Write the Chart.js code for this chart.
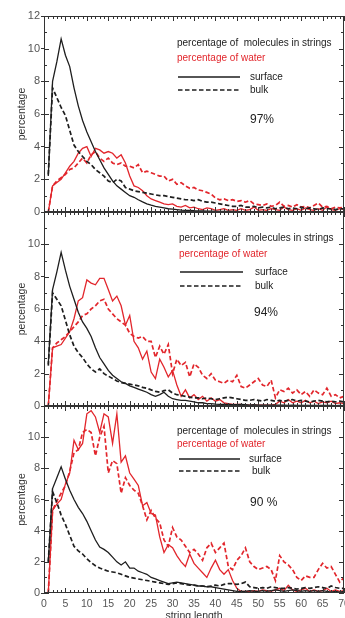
<!DOCTYPE html>
<html>
<head>
<meta charset="utf-8">
<script src="https://cdn.jsdelivr.net/npm/chart.js@4.4.0/dist/chart.umd.min.js"></script>
<style>
  html, body { margin: 0; padding: 0; background: #fff; overflow: hidden; }
  #wrap { position: relative; width: 345px; height: 618px; }
  canvas { position: absolute; left: 0; }
</style>
</head>
<body>
<div id="wrap">
  <canvas id="c97"></canvas>
  <canvas id="c94"></canvas>
  <canvas id="c90"></canvas>
</div>
<script>
// string length (x) and tick values
const lengths = [1, 2, 3, 4, 5, 6, 7, 8, 9, 10, 11, 12, 13, 14, 15, 16, 17, 18, 19, 20,
  21, 22, 23, 24, 25, 26, 27, 28, 29, 30, 31, 32, 33, 34, 35, 36, 37, 38, 39, 40,
  41, 42, 43, 44, 45, 46, 47, 48, 49, 50, 51, 52, 53, 54, 55, 56, 57, 58, 59, 60,
  61, 62, 63, 64, 65, 66, 67, 68, 69, 70];
const xTickValues = [0, 5, 10, 15, 20, 25, 30, 35, 40, 45, 50, 55, 60, 65, 70];
const yTickValues = [0, 2, 4, 6, 8, 10, 12];

// 97 %
const surf97Mol = [2.2, 8.0, 9.2, 10.6, 9.6, 8.9, 7.6, 6.5, 5.6, 4.9,
  4.3, 3.7, 3.2, 2.7, 2.3, 1.9, 1.6, 1.4, 1.2, 1.0,
  0.9, 0.75, 0.62, 0.5, 0.42, 0.35, 0.3, 0.25, 0.2, 0.18,
  0.15, 0.12, 0.1, 0.1, 0.08, 0.07, 0.06, 0.05, 0.05, 0.04,
  0.04, 0.03, 0.03, 0.03, 0.02, 0.02, 0.02, 0.02, 0.01, 0.01,
  0.01, 0.01, 0.01, 0.01, 0.01, 0.01, 0.01, 0.01, 0.01, 0.01,
  0.01, 0.01, 0.01, 0.01, 0.01, 0.01, 0.01, 0.01, 0.01, 0.01];
const bulk97Mol = [2.3, 7.6, 7.0, 6.4, 5.9, 5.0, 4.1, 3.7, 3.4, 3.1,
  2.9, 2.6, 2.4, 2.2, 1.9, 1.8, 2.0, 1.9, 1.5, 1.4,
  1.3, 1.25, 1.2, 1.15, 1.1, 1.05, 1.0, 1.0, 0.95, 0.9,
  0.85, 0.8, 0.75, 0.75, 0.7, 0.75, 0.65, 0.6, 0.6, 0.55,
  0.5, 0.45, 0.4, 0.35, 0.35, 0.4, 0.3, 0.3, 0.35, 0.25,
  0.3, 0.25, 0.3, 0.2, 0.25, 0.3, 0.2, 0.25, 0.2, 0.3,
  0.2, 0.25, 0.2, 0.15, 0.25, 0.2, 0.2, 0.15, 0.2, 0.2];
const surf97Water = [0, 1.6, 1.8, 2.0, 2.4, 2.8, 3.1, 3.6, 3.9, 4.0,
  3.4, 3.9, 3.8, 3.6, 3.7, 3.6, 3.3, 3.5, 3.0, 2.2,
  1.6, 1.5, 1.3, 1.0, 0.8, 0.7, 0.6, 0.5, 0.45, 0.5,
  0.35, 0.3, 0.4, 0.25, 0.3, 0.2, 0.15, 0.25, 0.2, 0.1,
  0.15, 0.2, 0.1, 0.15, 0.1, 0.2, 0.1, 0.15, 0.3, 0.1,
  0.15, 0.1, 0.2, 0.15, 0.1, 0.3, 0.15, 0.1, 0.2, 0.1,
  0.25, 0.15, 0.1, 0.2, 0.1, 0.3, 0.15, 0.1, 0.2, 0.15];
const bulk97Water = [0, 1.6, 1.9, 2.1, 2.3, 2.6, 2.7, 3.0, 3.3, 3.0,
  3.5, 3.7, 3.3, 3.1, 3.3, 3.0, 2.9, 3.0, 2.8, 2.8,
  2.7, 2.9, 2.4, 2.5, 2.4, 2.3, 2.2, 2.2, 1.9, 2.0,
  1.7, 1.8, 1.6, 1.45, 1.5, 1.35, 1.3, 1.2, 1.1, 0.85,
  0.75, 0.8, 0.7, 0.75, 0.65, 0.7, 0.6, 0.7, 0.5, 0.45,
  0.4, 0.5, 0.35, 0.4, 0.6, 0.35, 0.4, 0.3, 0.45, 0.3,
  0.35, 0.25, 0.4, 0.55, 0.3, 0.35, 0.2, 0.3, 0.25, 0.3];

// 94 %
const surf94Mol = [2.6, 7.2, 8.3, 9.5, 8.4, 7.4, 6.6, 5.8, 5.2, 4.8,
  4.3, 3.6, 3.0, 2.6, 2.2, 1.9, 1.7, 1.5, 1.4, 1.25,
  1.15, 1.05, 0.95, 0.85, 0.7, 0.6, 0.7, 0.85, 0.6, 0.45,
  0.4, 0.35, 0.35, 0.3, 0.25, 0.2, 0.2, 0.15, 0.15, 0.12,
  0.1, 0.1, 0.1, 0.08, 0.08, 0.1, 0.08, 0.06, 0.08, 0.06,
  0.06, 0.05, 0.06, 0.05, 0.05, 0.05, 0.04, 0.05, 0.04, 0.04,
  0.04, 0.03, 0.04, 0.03, 0.03, 0.03, 0.03, 0.02, 0.03, 0.02];
const bulk94Mol = [2.5, 7.0, 6.6, 6.2, 5.3, 4.4, 3.7, 3.3, 3.0, 2.6,
  2.3, 2.1, 2.3, 2.0, 1.85, 1.7, 1.55, 1.45, 1.4, 1.35,
  1.3, 1.25, 1.15, 1.1, 1.0, 0.9, 0.85, 0.95, 1.0, 0.8,
  0.7, 0.65, 0.6, 0.55, 0.5, 0.5, 0.45, 0.5, 0.45, 0.4,
  0.45, 0.5, 0.55, 0.5, 0.45, 0.4, 0.35, 0.35, 0.4, 0.35,
  0.3, 0.4, 0.35, 0.3, 0.35, 0.3, 0.35, 0.4, 0.3, 0.35,
  0.3, 0.25, 0.3, 0.35, 0.3, 0.25, 0.3, 0.25, 0.3, 0.25];
const surf94Water = [0, 3.6, 3.7, 3.8, 4.2, 4.6, 5.4, 6.5, 6.7, 7.8,
  7.6, 7.5, 7.9, 7.9, 7.2, 6.5, 6.8, 6.2, 5.0, 5.6,
  4.0, 3.6, 2.9, 3.4, 2.1, 1.7, 2.9, 2.4, 1.8, 2.2,
  1.3, 0.6, 1.0, 0.5, 0.7, 0.4, 0.6, 0.3, 0.5, 0.3,
  0.4, 0.2, 0.15, 0.1, 0.1, 0.1, 0.05, 0.05, 0.05, 0.05,
  0.05, 0.05, 0.05, 0.1, 0.3, 0.2, 0.4, 0.2, 0.3, 0.2,
  0.35, 0.2, 0.3, 0.15, 0.25, 0.2, 0.3, 0.15, 0.2, 0.15];
const bulk94Water = [0, 3.6, 3.9, 4.1, 4.3, 4.6, 4.9, 5.2, 5.6, 5.7,
  6.0, 6.2, 6.5, 6.6, 6.0, 5.7, 5.4, 5.2, 5.0, 4.5,
  4.3, 4.2, 4.3, 4.0, 4.0, 3.0, 3.7, 3.2, 3.8, 2.0,
  2.9, 2.5, 2.7, 1.8, 2.6, 2.4, 1.9, 1.7, 2.0, 1.6,
  1.5, 1.4, 1.6, 1.5, 1.9, 1.2, 1.1, 1.3, 1.5, 1.7,
  1.3, 1.2, 1.6, 0.5, 1.0, 0.9, 1.1, 0.8, 1.0, 0.7,
  0.9, 0.6, 1.0, 0.8, 0.7, 1.1, 0.6, 0.7, 0.5, 0.6];

// 90 %
const surf90Mol = [2.0, 6.7, 7.4, 8.1, 7.3, 6.6, 6.0, 5.5, 5.1, 4.6,
  4.0, 3.4, 2.95, 2.8, 2.6, 2.3, 2.0, 1.8, 2.0, 1.6,
  1.6, 1.4, 1.3, 1.2, 1.0, 0.9, 0.8, 0.7, 0.6, 0.65,
  0.7, 0.65, 0.6, 0.55, 0.5, 0.45, 0.45, 0.4, 0.4, 0.35,
  0.3, 0.25, 0.2, 0.15, 0.1, 0.1, 0.1, 0.15, 0.1, 0.1,
  0.15, 0.1, 0.15, 0.2, 0.15, 0.1, 0.15, 0.2, 0.15, 0.1,
  0.15, 0.1, 0.15, 0.1, 0.15, 0.1, 0.05, 0.1, 0.05, 0.1];
const bulk90Mol = [2.0, 6.5, 5.8, 5.0, 4.4, 3.7, 3.0, 2.7, 2.5, 2.2,
  1.95, 1.75, 1.6, 1.5, 1.4, 1.35, 1.3, 1.2, 1.1, 1.0,
  0.95, 0.9, 0.85, 0.8, 0.75, 0.7, 0.65, 0.6, 0.55, 0.6,
  0.65, 0.6, 0.55, 0.5, 0.5, 0.45, 0.45, 0.4, 0.45, 0.5,
  0.45, 0.55, 0.6, 0.6, 0.55, 0.6, 0.7, 0.4, 0.35, 0.3,
  0.35, 0.3, 0.4, 0.35, 0.3, 0.3, 0.35, 0.3, 0.25, 0.3,
  0.35, 0.3, 0.35, 0.4, 0.35, 0.3, 0.45, 0.35, 0.3, 0.3];
const surf90Water = [0, 5.3, 5.7, 6.0, 7.0, 7.7, 9.8, 9.2, 9.6, 11.5,
  11.7, 11.3, 10.3, 11.5, 11.3, 9.6, 11.5, 8.4, 8.8, 7.7,
  7.3, 6.9, 5.6, 5.8, 5.1, 5.0, 3.6, 2.6, 3.1, 2.9,
  2.4, 2.0, 1.7, 2.5, 1.9, 1.6, 1.3, 1.0, 1.6, 2.1,
  1.5, 1.2, 1.5, 0.8, 0.3, 0.1, 0.1, 0.1, 0.15, 0.1,
  0.2, 0.15, 0.1, 0.2, 0.3, 0.15, 0.5, 0.2, 0.1, 0.2,
  0.3, 0.1, 0.2, 0.1, 0.15, 0.3, 0.1, 0.2, 0.1, 0.15];
const bulk90Water = [0, 5.3, 5.9, 6.4, 6.9, 7.8, 9.0, 9.2, 10.3, 10.5,
  10.3, 8.8, 10.0, 10.7, 7.7, 8.5, 8.3, 6.4, 7.4, 6.9,
  6.6, 6.4, 5.6, 4.7, 5.3, 4.8, 4.5, 3.4, 3.0, 4.2,
  3.6, 3.4, 3.0, 2.6, 2.8, 2.5, 2.1, 2.9, 3.2, 2.6,
  2.9, 3.2, 1.7, 1.5, 2.1, 2.4, 2.9, 2.0, 1.7, 1.5,
  1.6, 1.7, 1.5, 0.8, 2.4, 2.0, 1.8, 1.5, 1.0, 0.8,
  1.1, 1.0, 1.0, 1.5, 1.9, 1.6, 1.7, 1.2, 0.7, 1.0];

const RED = '#e2262c';
const BLACK = '#1e1e1e';
const FONT = '"Liberation Sans", Arial, sans-serif';

Chart.defaults.font.family = FONT;

function toPoints(vals) {
  return vals.map((v, i) => ({ x: lengths[i], y: v }));
}

// box round the plot with small inward ticks, like the original figure
const framePlugin = {
  id: 'frame',
  afterDraw(chart) {
    const { ctx, chartArea: a, scales: { x, y } } = chart;
    ctx.save();
    ctx.strokeStyle = '#333';
    ctx.lineWidth = 1;
    ctx.strokeRect(a.left + 0.5, a.top + 0.5, a.right - a.left - 1, a.bottom - a.top - 1);
    ctx.beginPath();
    for (let v = 0; v <= 70; v++) {
      const px = Math.round(x.getPixelForValue(v)) + 0.5;
      const len = v % 5 === 0 ? 5 : 3;
      ctx.moveTo(px, a.bottom); ctx.lineTo(px, a.bottom - len);
      ctx.moveTo(px, a.top); ctx.lineTo(px, a.top + len);
    }
    for (let v = 0; v <= 12; v++) {
      const py = Math.round(y.getPixelForValue(v)) + 0.5;
      const len = v % 2 === 0 ? 5 : 3;
      ctx.moveTo(a.left, py); ctx.lineTo(a.left + len, py);
      ctx.moveTo(a.right, py); ctx.lineTo(a.right - len, py);
    }
    ctx.stroke();
    ctx.restore();
  }
};

// text key inside each panel
const keyPlugin = {
  id: 'key',
  afterDraw(chart, args, o) {
    const ctx = chart.ctx;
    const dy = o.canvasTop;
    ctx.save();
    ctx.textBaseline = 'middle';
    ctx.font = '10px ' + FONT;
    ctx.fillStyle = '#222';
    ctx.fillText('percentage of  molecules in strings', o.textX, o.y1 - dy);
    ctx.fillStyle = RED;
    ctx.fillText('percentage of water', o.textX, o.y2 - dy);
    ctx.fillStyle = '#222';
    ctx.fillText('surface', o.labelX, o.ySolid - dy);
    ctx.fillText('bulk', o.bulkX, o.yDash - dy);
    ctx.strokeStyle = BLACK;
    ctx.lineWidth = 1.3;
    ctx.beginPath();
    ctx.moveTo(o.lineX0, o.ySolid - dy); ctx.lineTo(o.lineX1, o.ySolid - dy);
    ctx.stroke();
    ctx.setLineDash([4.5, 2.5]);
    ctx.beginPath();
    ctx.moveTo(o.lineX0, o.yDash - dy); ctx.lineTo(o.lineX1, o.yDash - dy);
    ctx.stroke();
    ctx.setLineDash([]);
    ctx.font = '12px ' + FONT;
    ctx.fillText(o.pct, o.pctX, o.pctY - dy);
    ctx.restore();
  }
};

function makePanel(id, p) {
  const canvas = document.getElementById(id);
  canvas.width = 345;
  canvas.height = p.height;
  canvas.style.top = p.top + 'px';
  canvas.style.width = '345px';
  canvas.style.height = p.height + 'px';

  const line = (data, color, dashed) => ({
    data: toPoints(data),
    borderColor: color,
    borderWidth: dashed ? 1.7 : 1.3,
    borderDash: dashed ? [4.5, 2.5] : [],
    pointRadius: 0,
    tension: 0,
    fill: false
  });

  return new Chart(canvas, {
    type: 'line',
    data: {
      datasets: [
        line(p.surfMol, BLACK, false),
        line(p.bulkMol, BLACK, true),
        line(p.surfWater, RED, false),
        line(p.bulkWater, RED, true)
      ]
    },
    options: {
      responsive: false,
      animation: false,
      layout: { padding: { top: p.padTop, right: 1, left: 0, bottom: 0 } },
      plugins: {
        legend: { display: false },
        tooltip: { enabled: false },
        key: p.key
      },
      scales: {
        x: {
          type: 'linear',
          min: 0,
          max: 70,
          afterBuildTicks: s => { s.ticks = xTickValues.map(v => ({ value: v })); },
          afterFit: s => { s.height = p.xHeight; s.paddingLeft = 0; s.paddingRight = 0; },
          grid: { display: false, drawTicks: false },
          border: { display: false },
          ticks: {
            display: p.showX,
            padding: 5,
            maxRotation: 0,
            autoSkip: false,
            color: '#555',
            font: { size: 10.5 }
          },
          title: {
            display: p.showX,
            text: 'string length',
            color: '#333',
            font: { size: 10.5 },
            padding: { top: 0, bottom: 0 }
          }
        },
        y: {
          min: 0,
          max: 12,
          afterBuildTicks: s => { s.ticks = yTickValues.map(v => ({ value: v })); },
          afterFit: s => { s.width = 44; s.paddingTop = 0; s.paddingBottom = 0; },
          grid: { drawOnChartArea: false, drawTicks: true, tickLength: 3, color: '#333' },
          border: { display: false },
          ticks: {
            padding: 1,
            color: '#555',
            font: { size: 11 },
            callback: v => (p.hideTop && v === 12) ? '' : v
          },
          title: {
            display: true,
            text: 'percentage',
            color: '#333',
            font: { size: 10.5 },
            padding: { top: 16, bottom: 0 }
          }
        }
      }
    },
    plugins: [framePlugin, keyPlugin]
  });
}

makePanel('c97', {
  top: 0, height: 220, padTop: 16, xHeight: 8, showX: false, hideTop: false,
  surfMol: surf97Mol, bulkMol: bulk97Mol, surfWater: surf97Water, bulkWater: bulk97Water,
  key: { canvasTop: 0, textX: 177, y1: 43, y2: 58, ySolid: 77, yDash: 90,
    lineX0: 178, lineX1: 240, labelX: 250, bulkX: 250, pct: '97%', pctX: 250, pctY: 120 }
});

makePanel('c94', {
  top: 206, height: 210, padTop: 6, xHeight: 10, showX: false, hideTop: true,
  surfMol: surf94Mol, bulkMol: bulk94Mol, surfWater: surf94Water, bulkWater: bulk94Water,
  key: { canvasTop: 206, textX: 179, y1: 238, y2: 254, ySolid: 272, yDash: 286,
    lineX0: 180, lineX1: 243, labelX: 255, bulkX: 255, pct: '94%', pctX: 254, pctY: 313 }
});

makePanel('c90', {
  top: 400, height: 222, padTop: 6, xHeight: 29, showX: true, hideTop: true,
  surfMol: surf90Mol, bulkMol: bulk90Mol, surfWater: surf90Water, bulkWater: bulk90Water,
  key: { canvasTop: 400, textX: 177, y1: 431, y2: 444, ySolid: 459, yDash: 471,
    lineX0: 179, lineX1: 240, labelX: 249, bulkX: 252, pct: '90 %', pctX: 250, pctY: 503 }
});
</script>
</body>
</html>
